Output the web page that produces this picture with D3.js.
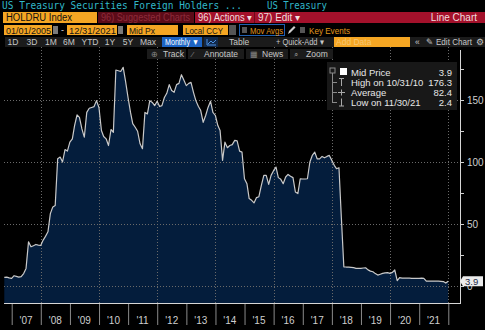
<!DOCTYPE html>
<html>
<head>
<meta charset="utf-8">
<script src="https://cdn.jsdelivr.net/npm/d3@7"></script>
<style>
  html, body { margin: 0; padding: 0; background: #000; }
  svg { display: block; font-family: "Liberation Sans", Arial, sans-serif; }
</style>
</head>
<body>
<svg id="chart" width="485" height="330"></svg>
<script>
/* -----------------    DATA     ------------------ */

// HOLDRU Index, month-end mid price, first value is Sep 2006
const startYear = 2006;
const startMonth = 8; // zero-based (September)
const midPrice = [
  7.0, 7.2, 6.6, 6.2,                                                   // 2006 Sep-Dec
  8.3, 7.8, 7.2, 7.5, 10.0, 14.2, 35.6, 31.6, 32.5, 33.5, 33.0, 32.7,   // 2007
  37.0, 40.0, 43.7, 58.4, 63.8, 65.0, 102.6, 104.0, 100.0, 110.0, 108.8, 116.0, // 2008
  118.7, 129.4, 138.0, 136.0, 126.7, 120.0, 140.0, 143.3, 144.0, 144.7, 149.5, 144.0, // 2009
  125.4, 120.6, 118.7, 113.3, 126.2, 124.0, 174.2, 173.6, 173.0, 176.3, 165.0, 152.0, // 2010
  140.0, 131.0, 128.0, 124.8, 114.7, 110.7, 140.0, 138.8, 149.5, 148.0, 145.5, 149.0, // 2011
  144.7, 145.5, 152.0, 155.4, 162.4, 157.6, 156.2, 162.4, 163.4, 170.4, 166.2, 161.6, // 2012
  163.4, 164.2, 156.2, 149.5, 145.0, 141.5, 132.0, 137.5, 144.0, 149.0, 140.0, 137.5, // 2013
  129.4, 125.4, 101.3, 116.0, 111.5, 113.3, 114.0, 117.4, 117.0, 108.8, 108.0, 86.5,  // 2014
  82.5, 70.5, 69.1, 67.0, 71.3, 72.0, 81.2, 89.2, 89.2, 82.0, 89.2, 93.0,            // 2015
  95.9, 87.4, 86.0, 82.5, 87.9, 90.0, 88.5, 87.4, 75.8, 74.5, 86.5, 86.3,            // 2016
  86.3, 86.5, 100.0, 105.3, 108.0, 102.6, 102.5, 104.5, 103.4, 104.5, 105.3, 101.3,  // 2017
  97.3, 94.6, 95.4, 55.0, 15.5, 15.3, 15.2, 15.0, 14.8, 14.2, 14.3, 14.2,            // 2018
  14.5, 14.7, 13.0, 12.0, 11.5, 10.0, 8.8, 9.5, 10.2, 10.6, 10.8, 10.2,              // 2019
  11.0, 12.9, 4.3, 6.7, 6.4, 6.3, 6.3, 6.3, 6.2, 6.2, 6.2, 6.2,                      // 2020
  6.4, 6.2, 4.0, 4.0, 4.0, 4.0, 3.9, 3.9, 3.8, 3.6, 2.4, 3.9                         // 2021
];

const yearTicks = [2007, 2008, 2009, 2010, 2011, 2012, 2013, 2014, 2015, 2016, 2017, 2018, 2019, 2020, 2021, 2022];
const yearLabels = ["'07", "'08", "'09", "'10", "'11", "'12", "'13", "'14", "'15", "'16", "'17", "'18", "'19", "'20", "'21"];
const gridYears = [2008, 2010, 2012, 2014, 2016, 2018, 2020, 2022];
const yTicks = [0, 25, 50, 75, 100, 125, 150, 175];
const yLabelled = [0, 50, 100, 150];

const legendLabels = ["Mid Price", "High on 10/31/10", "Average", "Low on 11/30/21"];
const legendValues = ["3.9", "176.3", "82.4", "2.4"];
const lastValue = "3.9";

/* -----------------    SETTINGS     ------------------ */
const cfg = {
  plotLeft: 4,
  plotRight: 460,
  plotTop: 47,
  axisY: 303,
  fill: '#041d3c',
  line: '#c9c9c9',
  grid: '#6a6a6a',
  text: '#cfcfcf',
  orange: '#f5a623',
  red: '#a3112b',
  darkRed: '#5c0b18',
  teal: '#31b8c9'
};

const svg = d3.select('#chart');

const data = midPrice.map((v, i) => ({
  date: new Date(startYear, startMonth + i + 1, 0),
  value: v
}));

// squeeze a label into the width it has on screen
function fit(sel, w) {
  return sel.attr('textLength', w).attr('lengthAdjust', 'spacingAndGlyphs');
}

/* -----------------    SCALES     ------------------ */
const x = d3.scaleTime()
  .domain([new Date(2007, 0, 1), new Date(2022, 0, 1)])
  .range([11.7, 448.3]);

const y = d3.scaleLinear()
  .domain([0, 150])
  .range([286, 100]);

/* -----------------    PLOT     ------------------ */
const plot = svg.append('g');

// area
plot.append('path')
  .datum(data)
  .attr('fill', cfg.fill)
  .attr('d', d3.area().x(d => x(d.date)).y0(cfg.axisY).y1(d => y(d.value)));

// grid
plot.selectAll('.hgrid')
  .data(yLabelled)
  .enter()
  .append('line')
  .attr('x1', cfg.plotLeft)
  .attr('x2', cfg.plotRight)
  .attr('y1', d => y(d) + 0.5)
  .attr('y2', d => y(d) + 0.5)
  .attr('stroke', cfg.grid)
  .attr('stroke-dasharray', '1,2')
  .attr('stroke-width', 1);

plot.selectAll('.vgrid')
  .data(gridYears)
  .enter()
  .append('line')
  .attr('x1', d => Math.round(x(new Date(d, 0, 1))) + 0.5)
  .attr('x2', d => Math.round(x(new Date(d, 0, 1))) + 0.5)
  .attr('y1', cfg.plotTop)
  .attr('y2', cfg.axisY)
  .attr('stroke', cfg.grid)
  .attr('stroke-dasharray', '1,2')
  .attr('stroke-width', 1);

// line
plot.append('path')
  .datum(data)
  .attr('fill', 'none')
  .attr('stroke', cfg.line)
  .attr('stroke-width', 1.2)
  .attr('stroke-linejoin', 'round')
  .attr('d', d3.line().x(d => x(d.date)).y(d => y(d.value)));

/* -----------------    AXES     ------------------ */
// bottom axis
const xAxis = d3.axisBottom(x)
  .tickValues(yearTicks.map(yr => new Date(yr, 0, 1)))
  .tickSize(22)
  .tickFormat('');

const gx = svg.append('g')
  .attr('transform', `translate(0, ${cfg.axisY})`)
  .call(xAxis);
gx.select('.domain').remove();
gx.selectAll('.tick line').attr('stroke', '#8a8a8a');
gx.append('line')
  .attr('x1', cfg.plotLeft).attr('x2', cfg.plotRight)
  .attr('y1', 0.5).attr('y2', 0.5)
  .attr('stroke', '#d6d6d6');

svg.append('g')
  .selectAll('text')
  .data(yearLabels)
  .enter()
  .append('text')
  .attr('x', (d, i) => x(new Date(yearTicks[i], 6, 1)))
  .attr('y', 324)
  .attr('text-anchor', 'middle')
  .attr('fill', cfg.text)
  .attr('font-size', 10)
  .text(d => d);

// right axis
const yAxis = d3.axisRight(y)
  .tickValues(yTicks)
  .tickSize(4)
  .tickPadding(3)
  .tickFormat(d => yLabelled.includes(d) ? d : '');

const gy = svg.append('g')
  .attr('transform', `translate(${cfg.plotRight}, 0)`)
  .call(yAxis);
gy.select('.domain').remove();
gy.selectAll('.tick line').attr('stroke', '#d0d0d0');
gy.selectAll('.tick text').attr('fill', cfg.text).attr('font-size', 10).attr('font-family', 'Liberation Sans, Arial, sans-serif');
gy.append('line')
  .attr('x1', 0.5).attr('x2', 0.5)
  .attr('y1', 50).attr('y2', cfg.axisY + 1)
  .attr('stroke', '#d6d6d6');

// last value marker (sits over the "0" label, as on the terminal)
const ly = y(+lastValue);
svg.append('path')
  .attr('d', `M460,${ly} L463,${ly - 5} L483,${ly - 5} L483,${ly + 5} L463,${ly + 5} Z`)
  .attr('fill', '#ececec');
svg.append('text')
  .attr('x', 465)
  .attr('y', ly + 3.5)
  .attr('fill', '#1d2b48')
  .attr('font-size', 9.5)
  .text(lastValue);

/* -----------------    LEGEND     ------------------ */
const legend = svg.append('g').attr('transform', 'translate(327, 62)');
legend.append('rect')
  .attr('width', 130).attr('height', 48)
  .attr('fill', '#181818');

legend.append('rect')
  .attr('x', 3).attr('y', 6).attr('width', 5).attr('height', 5)
  .attr('fill', 'none').attr('stroke', '#8a8a8a');
legend.append('line')
  .attr('x1', 5.5).attr('x2', 5.5).attr('y1', 11).attr('y2', 41)
  .attr('stroke', '#8a8a8a');

legend.selectAll('.row')
  .data(legendLabels)
  .enter()
  .append('g')
  .attr('transform', (d, i) => `translate(0, ${10 + i * 10})`)
  .each(function (d, i) {
    const row = d3.select(this);
    if (i > 0) {
      row.append('line').attr('x1', 5.5).attr('x2', 10).attr('y1', 0.5).attr('y2', 0.5).attr('stroke', '#8a8a8a');
      // marker glyphs
      if (i === 1) {
        row.append('path').attr('d', 'M12,-3.5 H17 M14.5,-3.5 V4').attr('stroke', '#aaa').attr('fill', 'none');
      } else if (i === 2) {
        row.append('path').attr('d', 'M11,0.5 H18 M14.5,-2.5 V3.5').attr('stroke', '#aaa').attr('fill', 'none');
      } else {
        row.append('path').attr('d', 'M12,4 H17 M14.5,4 V-3.5').attr('stroke', '#aaa').attr('fill', 'none');
      }
    } else {
      row.append('rect').attr('x', 13).attr('y', -4).attr('width', 7).attr('height', 7).attr('fill', '#fff');
    }
    row.append('text')
      .attr('x', 24).attr('y', 3.5)
      .attr('fill', '#e6e6e6').attr('font-size', 9.5)
      .text(d);
    row.append('text')
      .attr('x', 125).attr('y', 3.5)
      .attr('text-anchor', 'end')
      .attr('fill', '#e6e6e6').attr('font-size', 9.5)
      .text(legendValues[i]);
  });

/* -----------------    HEADER / TOOLBARS     ------------------ */
const head = svg.append('g');

fit(head.append('text')
  .attr('x', 2).attr('y', 9)
  .attr('fill', cfg.teal)
  .attr('font-family', 'DejaVu Sans Mono, monospace')
  .attr('font-size', 10.5)
  .text('US Treasury Securities Foreign Holders ...'), 240);
fit(head.append('text')
  .attr('x', 267).attr('y', 9)
  .attr('fill', cfg.teal)
  .attr('font-family', 'DejaVu Sans Mono, monospace')
  .attr('font-size', 10.5)
  .text('US Treasury'), 60);

// row 2
const row2 = [
  { x: 3, w: 94, fill: cfg.orange, text: 'HOLDRU Index', color: '#111', tw: 66 },
  { x: 98, w: 96, fill: cfg.darkRed, text: '96) Suggested Charts', color: '#8d2b3b', tw: 89 },
  { x: 195, w: 290, fill: cfg.red, text: '96) Actions \u25BE', color: '#f0dede', tw: 54 }
];
head.selectAll('.r2')
  .data(row2)
  .enter()
  .append('rect')
  .attr('x', d => d.x).attr('y', 12).attr('width', d => d.w).attr('height', 11)
  .attr('fill', d => d.fill);
head.selectAll('.r2t')
  .data(row2)
  .enter()
  .append('text')
  .attr('x', d => d.x + 3).attr('y', 21)
  .attr('fill', d => d.color).attr('font-size', 10)
  .attr('textLength', d => d.tw).attr('lengthAdjust', 'spacingAndGlyphs')
  .text(d => d.text);
head.append('line').attr('x1', 254.5).attr('x2', 254.5).attr('y1', 12).attr('y2', 23).attr('stroke', '#6d0a1c');
fit(head.append('text').attr('x', 258).attr('y', 21).attr('fill', '#f0dede').attr('font-size', 10).text('97) Edit \u25BE'), 42);
head.append('text').attr('x', 477).attr('y', 21).attr('text-anchor', 'end').attr('fill', '#f0dede').attr('font-size', 10).text('Line Chart');

// row 3
const row3 = [
  { x: 4, w: 48, text: '01/01/2005', tw: 45 },
  { x: 67, w: 50, text: '12/31/2021', tw: 47 },
  { x: 127, w: 51, text: 'Mid Px', tw: 26 },
  { x: 183, w: 45, text: 'Local CCY', tw: 38 }
];
head.selectAll('.r3')
  .data(row3)
  .enter()
  .append('rect')
  .attr('x', d => d.x).attr('y', 25).attr('width', d => d.w).attr('height', 10)
  .attr('fill', cfg.orange);
head.selectAll('.r3t')
  .data(row3)
  .enter()
  .append('text')
  .attr('x', d => d.x + 2).attr('y', 33.5)
  .attr('fill', '#151515').attr('font-size', 9.5)
  .attr('textLength', d => d.tw).attr('lengthAdjust', 'spacingAndGlyphs')
  .text(d => d.text);
[53, 118].forEach(cx => {
  head.append('rect').attr('x', cx).attr('y', 26).attr('width', 5).attr('height', 8).attr('fill', '#7a7a7a');
});
head.append('text').attr('x', 61).attr('y', 33).attr('fill', '#ddd').attr('font-size', 9).text('-');
head.append('rect').attr('x', 229).attr('y', 25).attr('width', 7).attr('height', 10).attr('fill', '#555');
head.append('rect').attr('x', 239.5).attr('y', 24.5).attr('width', 45).attr('height', 11).attr('fill', 'none').attr('stroke', '#1f5fb0');
head.append('rect').attr('x', 242).attr('y', 27).attr('width', 5).attr('height', 6).attr('fill', '#555');
fit(head.append('text').attr('x', 250).attr('y', 33.5).attr('fill', '#e0961c').attr('font-size', 9.5).text('Mov Avgs'), 33);
head.append('path').attr('d', 'M288,34 L289,31 L294,26 L295.5,27.5 L290.5,32.5 Z').attr('fill', '#ccc');
head.append('rect').attr('x', 300).attr('y', 27).attr('width', 5).attr('height', 6).attr('fill', '#555');
fit(head.append('text').attr('x', 309).attr('y', 33.5).attr('fill', '#e0961c').attr('font-size', 9.5).text('Key Events'), 41);

// row 4
head.append('rect').attr('x', 5).attr('y', 37).attr('width', 480).attr('height', 10).attr('fill', '#1b1b1b');
const ranges = [
  { x: 13, t: '1D' }, { x: 32, t: '3D' }, { x: 51, t: '1M' }, { x: 69, t: '6M' },
  { x: 90, t: 'YTD' }, { x: 110, t: '1Y' }, { x: 128, t: '5Y' }, { x: 148, t: 'Max' }
];
head.selectAll('.r4t')
  .data(ranges)
  .enter()
  .append('text')
  .attr('x', d => d.x).attr('y', 45).attr('text-anchor', 'middle')
  .attr('fill', '#c8c8c8').attr('font-size', 8.5)
  .text(d => d.t);
head.append('rect').attr('x', 162).attr('y', 37).attr('width', 40).attr('height', 10).attr('fill', '#1d64c4');
fit(head.append('text').attr('x', 165).attr('y', 45).attr('fill', '#fff').attr('font-size', 8.5).text('Monthly \u25BC'), 34);
head.append('rect').attr('x', 204).attr('y', 37).attr('width', 14).attr('height', 10).attr('fill', '#12294a');
head.append('path').attr('d', 'M207,39 V45 H216 M208,44 L211,41 L213,43 L216,40').attr('stroke', '#4a90e2').attr('fill', 'none');
head.append('text').attr('x', 229).attr('y', 45).attr('fill', '#c8c8c8').attr('font-size', 8.5).text('Table');
fit(head.append('text').attr('x', 276).attr('y', 45).attr('fill', '#c8c8c8').attr('font-size', 8.5).text('+ Quick-Add \u25BE'), 48);
head.append('rect').attr('x', 334).attr('y', 37).attr('width', 76).attr('height', 10).attr('fill', cfg.orange);
head.append('text').attr('x', 336).attr('y', 45).attr('fill', '#f6c776').attr('font-size', 8.5).text('Add Data');
head.append('text').attr('x', 415).attr('y', 45).attr('fill', '#c8c8c8').attr('font-size', 8.5).text('\u00AB');
fit(head.append('text').attr('x', 426).attr('y', 45).attr('fill', '#c8c8c8').attr('font-size', 8.5).text('\u270E Edit Chart'), 46);
head.append('text').attr('x', 476).attr('y', 45).attr('fill', '#c8c8c8').attr('font-size', 8.5).text('\u2699');

// row 5
const row5 = [
  { x: 147, w: 39, icon: '\u2295', t: 'Track' },
  { x: 188, w: 56, icon: '\u2044', t: 'Annotate' },
  { x: 246, w: 42, icon: '\u25A6', t: 'News' },
  { x: 290, w: 43, icon: '\u2315', t: 'Zoom' }
];
const r5 = head.selectAll('.r5')
  .data(row5)
  .enter()
  .append('g');
r5.append('rect').attr('x', d => d.x).attr('y', 49).attr('width', d => d.w).attr('height', 10).attr('fill', '#1b1b1b');
r5.append('text').attr('x', d => d.x + 4).attr('y', 57).attr('fill', '#8a8a8a').attr('font-size', 8).text(d => d.icon);
r5.append('text').attr('x', d => d.x + 16).attr('y', 57).attr('fill', '#c8c8c8').attr('font-size', 8.5).text(d => d.t);
</script>
</body>
</html>
